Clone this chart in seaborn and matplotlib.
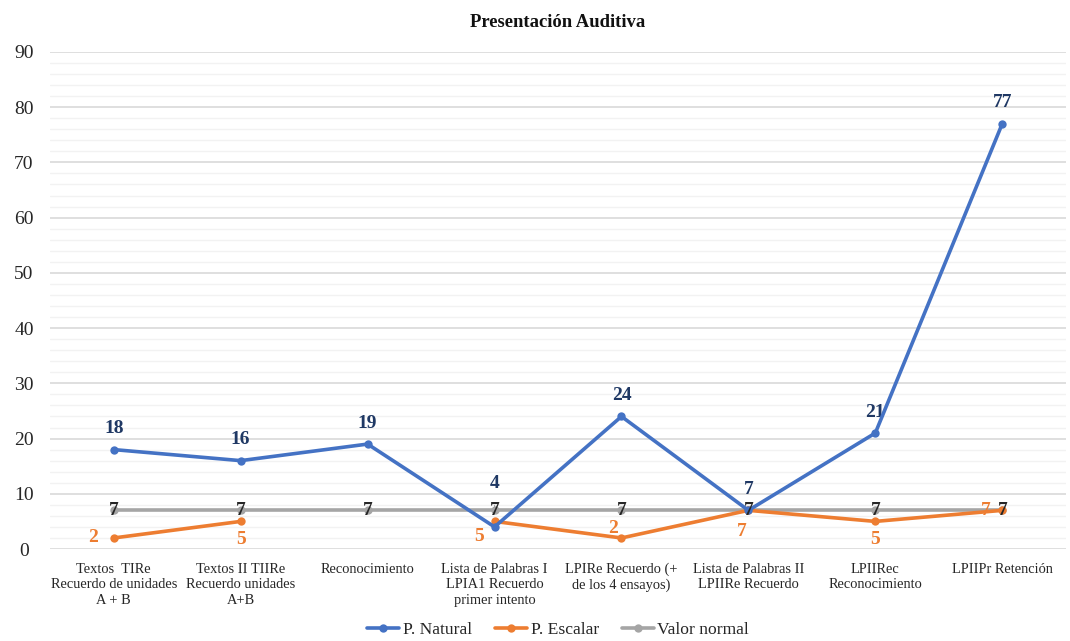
import numpy as np
import pandas as pd
import matplotlib
matplotlib.use("Agg")
import matplotlib.pyplot as plt
import seaborn as sns

categories = [
    "Textos  TIRe\nRecuerdo de unidades\nA + B",
    "Textos II TIIRe\nRecuerdo unidades\nA+B",
    "Reconocimiento",
    "Lista de Palabras I\nLPIA1 Recuerdo\nprimer intento",
    "LPIRe Recuerdo (+\nde los 4 ensayos)",
    "Lista de Palabras II\nLPIIRe Recuerdo",
    "LPIIRec\nReconocimiento",
    "LPIIPr Retención",
]
p_natural = [18, 16, 19, 4, 24, 7, 21, 77]
p_escalar = [2, 5, np.nan, 5, 2, 7, 5, 7]
valor_normal = [7, 7, 7, 7, 7, 7, 7, 7]
yticks = list(range(0, 91, 10))

sns.set_theme(style="white")
plt.rcParams["font.family"] = ["Liberation Serif", "DejaVu Serif"]

fig = plt.figure(figsize=(10.7, 6.41), dpi=100)
ax = fig.add_axes([0.047, 0.1435, 0.949, 0.7755])

x = np.arange(len(categories))
blue, orange, gray = "#4472C4", "#ED7D31", "#A5A5A5"

# Gray line
df_g = pd.DataFrame({"x": x, "y": valor_normal})
sns.lineplot(data=df_g, x="x", y="y", ax=ax, color=gray, lw=2.6,
             marker="o", markersize=6, markeredgewidth=0, label="Valor normal",
             zorder=2)

# Orange line in segments (gap at NaN)
esc = np.array(p_escalar, dtype=float)
seg = np.cumsum(np.isnan(esc))
df_o = pd.DataFrame({"x": x, "y": esc, "seg": seg}).dropna()
sns.lineplot(data=df_o, x="x", y="y", units="seg", estimator=None, ax=ax,
             color=orange, lw=2.6, marker="o", markersize=6, markeredgewidth=0,
             label="P. Escalar", zorder=3)

# Blue line
df_b = pd.DataFrame({"x": x, "y": p_natural})
sns.lineplot(data=df_b, x="x", y="y", ax=ax, color=blue, lw=2.6,
             marker="o", markersize=6, markeredgewidth=0, label="P. Natural",
             zorder=4)

ax.set_xlim(-0.5, len(categories) - 0.5)
ax.set_ylim(0, 90)
ax.set_yticks(yticks)
ax.set_yticks(np.arange(0, 91, 2), minor=True)
ax.yaxis.grid(True, which="major", color="#D9D9D9", lw=1.2)
ax.yaxis.grid(True, which="minor", color="#F2F2F2", lw=1.0)
ax.xaxis.grid(False)
ax.set_axisbelow(True)
for s in ax.spines.values():
    s.set_visible(False)
ax.tick_params(axis="y", labelsize=14, colors="#262626", length=0, pad=19)
ax.set_xticks(x)
ax.set_xticklabels(categories, fontsize=10.4, color="#262626", linespacing=1.25)
ax.tick_params(axis="x", length=0, pad=10)
ax.set_xlabel("")
ax.set_ylabel("")
for lbl in ax.get_yticklabels():
    lbl.set_horizontalalignment("center")

ax.set_title("Presentación Auditiva", fontsize=13.4, fontweight="bold",
             color="#111111", pad=18)

fs = 14
# Blue labels
for i, v in enumerate(p_natural):
    if i == 3:
        ax.annotate(str(v), xy=(i, v), xytext=(0, 31), textcoords="offset points",
                    ha="center", va="center", fontsize=fs, fontweight="bold",
                    color="#1F3864",
                    arrowprops=dict(arrowstyle="-", color="#A0A0A0", lw=0.8,
                                    shrinkA=7, shrinkB=14))
    else:
        ax.annotate(str(v), xy=(i, v), xytext=(0, 15), textcoords="offset points",
                    ha="center", va="center", fontsize=fs, fontweight="bold",
                    color="#1F3864")

# Orange labels
for i, v in enumerate(p_escalar):
    if np.isnan(v):
        continue
    if i == 0:
        off = (-15, 0)
    elif i == 3:
        off = (-11, -11)
    elif i == 4:
        off = (-6, 7)
    elif i == 5:
        off = (-5, -15)
    elif i == 7:
        off = (-12, 0)
    else:
        off = (0, -13)
    ax.annotate(str(int(v)), xy=(i, v), xytext=off, textcoords="offset points",
                ha="center", va="center", fontsize=fs, fontweight="bold",
                color=orange)

# Gray labels
for i, v in enumerate(valor_normal):
    ax.annotate(str(v), xy=(i, v), xytext=(0, 0), textcoords="offset points",
                ha="center", va="center", fontsize=fs, fontweight="bold",
                color="#262626", zorder=6)

handles, labels = ax.get_legend_handles_labels()
order = [labels.index("P. Natural"), labels.index("P. Escalar"),
         labels.index("Valor normal")]
ax.legend([handles[k] for k in order], [labels[k] for k in order],
          loc="upper center", bbox_to_anchor=(0.5, -0.115), ncol=3,
          frameon=False, fontsize=12.6, handlelength=1.85, columnspacing=1.3,
          handletextpad=0.2)

fig.savefig("out.png", dpi=100)
